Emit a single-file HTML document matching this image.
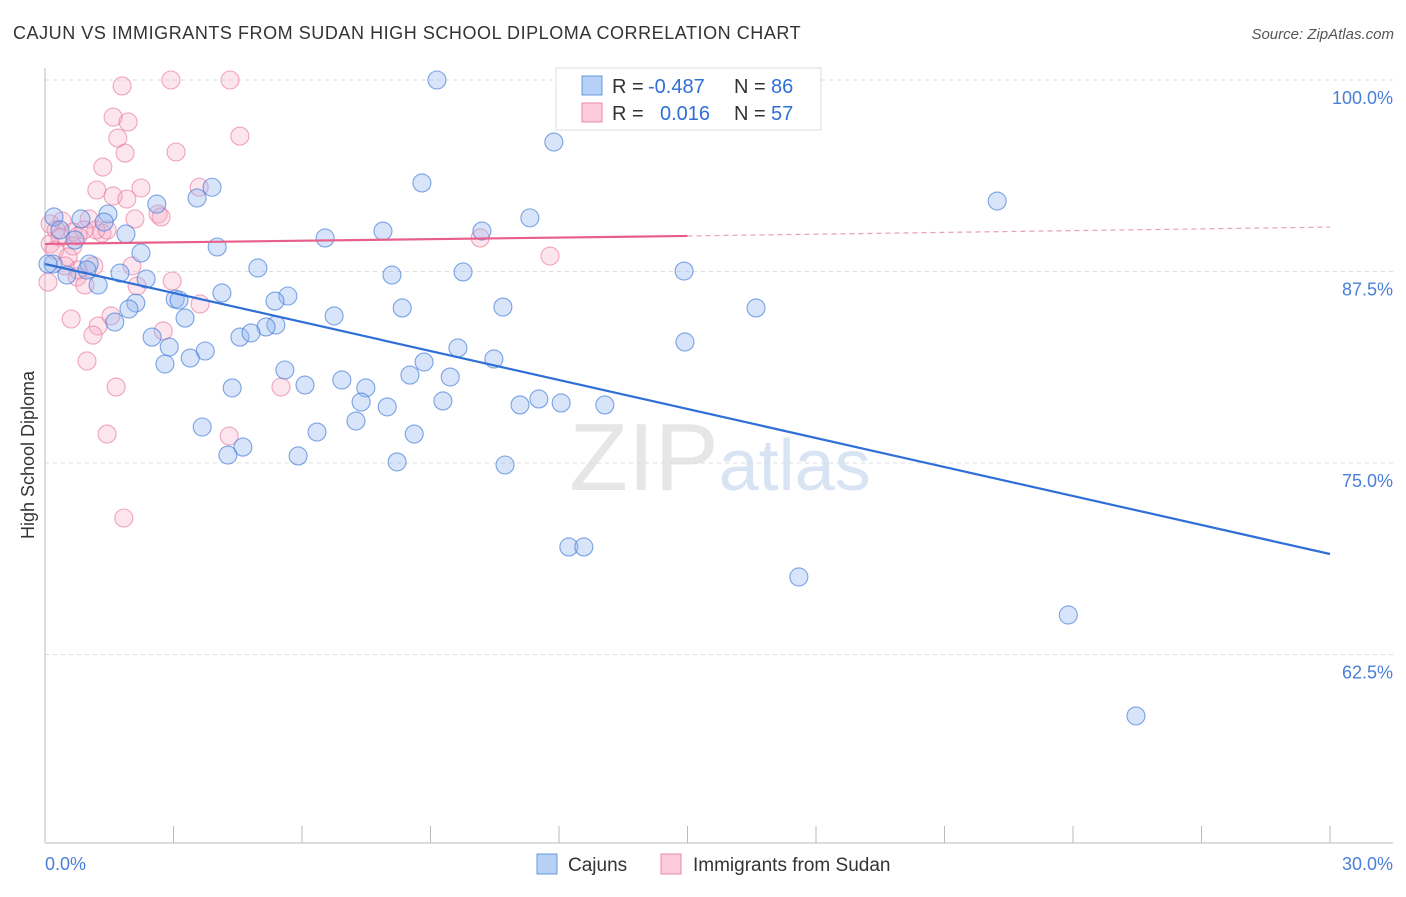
<!DOCTYPE html>
<html><head><meta charset="utf-8"><style>
body{margin:0;background:#fff;font-family:"Liberation Sans",sans-serif;}
svg text{font-family:"Liberation Sans",sans-serif;}
</style></head><body>
<svg id="chart" width="1406" height="892" xmlns="http://www.w3.org/2000/svg">
<text x="13" y="39" font-size="18" fill="#333" letter-spacing="0.55">CAJUN VS IMMIGRANTS FROM SUDAN HIGH SCHOOL DIPLOMA CORRELATION CHART</text>
<text x="1394" y="39" font-size="15" fill="#555" text-anchor="end" font-style="italic">Source: ZipAtlas.com</text>
<text x="720" y="490" font-size="96" fill="#e6e6e6" text-anchor="middle" font-family="Liberation Serif"><tspan>ZIP</tspan><tspan fill="#d8e4f4" font-family="Liberation Sans" font-size="72">atlas</tspan></text>
<g id="grid"></g>
<g id="axes"></g>
<g id="pts"></g>
<g id="lines"></g>
<text transform="translate(34,455) rotate(-90)" font-size="18" fill="#333" text-anchor="middle">High School Diploma</text>
<text x="45" y="870" font-size="18" fill="#4a7fd8">0.0%</text>
<text x="1393" y="870" font-size="18" fill="#4a7fd8" text-anchor="end">30.0%</text>
<g>
<rect x="556" y="68" width="265" height="62" fill="#fff" stroke="#ddd"/>
<rect x="582" y="76" width="20" height="19" fill="#b7d0f5" stroke="#6a9ae0"/>
<rect x="582" y="103" width="20" height="19" fill="#fbcbd9" stroke="#e88aa8"/>
<text x="612" y="93" font-size="20" fill="#333">R = <tspan x="648" fill="#2f6fd6">-0.487</tspan><tspan x="734">N = </tspan><tspan x="771" fill="#2f6fd6">86</tspan></text>
<text x="612" y="120" font-size="20" fill="#333">R = <tspan x="660" fill="#2f6fd6">0.016</tspan><tspan x="734">N = </tspan><tspan x="771" fill="#2f6fd6">57</tspan></text>
</g>
<g>
<rect x="537" y="854" width="20" height="20" fill="#b7d0f5" stroke="#6a9ae0"/>
<text x="568" y="871" font-size="19" fill="#333">Cajuns</text>
<rect x="661" y="854" width="20" height="20" fill="#fbcbd9" stroke="#e88aa8"/>
<text x="693" y="871" font-size="19" fill="#333">Immigrants from Sudan</text>
</g>
</svg>
<script>
const yTicks=[100,87.5,75,62.5];
const yTickLabels=["100.0%","87.5%","75.0%","62.5%"];
const blueX=[9.15,11.88,8.80,3.90,22.23,3.55,2.61,0.21,0.84,1.47,11.32,1.38,10.20,7.89,6.54,1.89,4.02,2.24,0.19,1.03,0.98,4.97,9.76,14.92,8.10,1.75,2.36,1.24,4.13,5.67,3.04,3.13,5.37,2.12,1.96,10.69,8.34,16.60,3.27,6.75,1.63,5.39,5.16,4.55,4.81,2.50,2.90,3.74,3.39,2.80,14.94,9.64,10.48,8.85,5.60,8.52,9.46,6.93,6.07,7.49,4.37,7.38,9.29,7.99,11.09,11.53,12.05,13.07,3.67,6.35,7.26,8.62,4.62,4.27,5.91,8.22,10.74,12.23,12.58,17.60,23.89,25.47,0.07,0.35,0.70,0.51];
const blueY=[100.0,95.95,93.28,93.0,92.1,92.3,91.9,91.06,90.93,91.25,91.0,90.73,90.14,90.14,89.69,89.95,89.1,88.71,87.99,87.99,87.6,87.73,87.47,87.53,87.27,87.4,87.01,86.62,86.1,85.9,85.7,85.64,85.57,85.44,85.05,85.18,85.12,85.12,84.46,84.6,84.2,84.01,83.88,83.22,83.49,83.22,82.57,82.31,81.85,81.46,82.9,82.51,81.79,81.59,81.07,80.74,80.61,80.42,80.09,79.9,79.9,78.98,79.05,78.66,78.79,79.18,78.92,78.79,77.35,77.02,77.74,76.89,76.04,75.52,75.46,75.07,74.87,69.52,69.52,67.56,65.08,58.49,87.99,90.21,89.56,87.27];
const pinkX=[2.94,4.32,1.80,1.59,1.94,1.70,4.55,1.87,3.06,1.35,3.60,1.21,2.24,1.59,1.91,2.64,2.71,1.03,2.10,0.40,0.12,0.26,0.65,1.33,1.19,0.91,1.45,0.77,0.35,0.65,0.12,0.23,0.54,1.14,2.03,0.75,0.93,2.15,2.97,3.62,0.61,1.24,1.54,1.12,2.76,0.98,1.66,5.51,4.30,1.45,1.84,10.16,11.79,0.07,0.77,0.47];
const pinkY=[100.0,100.0,99.61,97.58,97.26,96.21,96.34,95.23,95.3,94.32,93.0,92.82,92.95,92.43,92.23,91.25,91.06,90.93,90.93,90.8,90.6,90.21,90.08,90.01,90.21,90.21,90.21,89.82,89.75,89.16,89.3,88.9,88.45,87.86,87.86,87.14,86.62,86.55,86.88,85.38,84.4,83.94,84.6,83.35,83.62,81.66,79.96,79.96,76.76,76.89,71.41,89.69,88.51,86.81,87.6,87.86];
const blueTrend=[87.99,69.06];
const pinkTrend=[89.3,89.82,90.4];
const NS="http://www.w3.org/2000/svg";
const X=v=>45+v*(1285/30);
const Y=v=>80+(100-v)*15.32;
function mk(tag,attrs,parent){const e=document.createElementNS(NS,tag);for(const k in attrs)e.setAttribute(k,attrs[k]);document.getElementById(parent).appendChild(e);return e;}
yTicks.forEach((t,i)=>{
  const g=mk('line',{x1:45,x2:1393,y1:Y(t),y2:Y(t),stroke:'#ddd','stroke-dasharray':'4,4'},'grid');
  
  
  const l=mk('text',{x:1393,y:Y(t)+24,'font-size':18,fill:'#4a7fd8','text-anchor':'end'},'grid');
  l.textContent=yTickLabels[i];
  
  
});
const ax=mk('line',{x1:45,x2:45,y1:68,y2:843,stroke:'#bbb'},'axes');


const bx=mk('line',{x1:45,x2:1393,y1:843,y2:843,stroke:'#bbb'},'axes');


for(let i=0;i<=10;i++){
  const t=mk('line',{x1:X(i*3),x2:X(i*3),y1:826,y2:843,stroke:'#bbb'},'axes');
  
  
}
pinkX.forEach((x,i)=>{
  const c=mk('circle',{cx:X(x),cy:Y(pinkY[i]),r:9,fill:'rgba(248,170,195,0.3)',stroke:'rgba(232,120,160,0.65)','stroke-width':1.1},'pts');
  
  
});
blueX.forEach((x,i)=>{
  const c=mk('circle',{cx:X(x),cy:Y(blueY[i]),r:9,fill:'rgba(150,185,240,0.38)',stroke:'rgba(60,120,215,0.65)','stroke-width':1.1},'pts');
  
  
});
const bl=mk('line',{x1:X(0),y1:Y(blueTrend[0]),x2:X(30),y2:Y(blueTrend[1]),stroke:'#2f6fd6','stroke-width':2.2},'lines');


const pl=mk('line',{x1:X(0),y1:Y(pinkTrend[0]),x2:X(15),y2:Y(pinkTrend[1]),stroke:'#e8608a','stroke-width':2.2},'lines');


const pd=mk('line',{x1:X(15),y1:Y(pinkTrend[1]),x2:X(30),y2:Y(pinkTrend[2]),stroke:'#e8a0b8','stroke-width':1.2,'stroke-dasharray':'5,4'},'lines');


</script>
</body></html>
